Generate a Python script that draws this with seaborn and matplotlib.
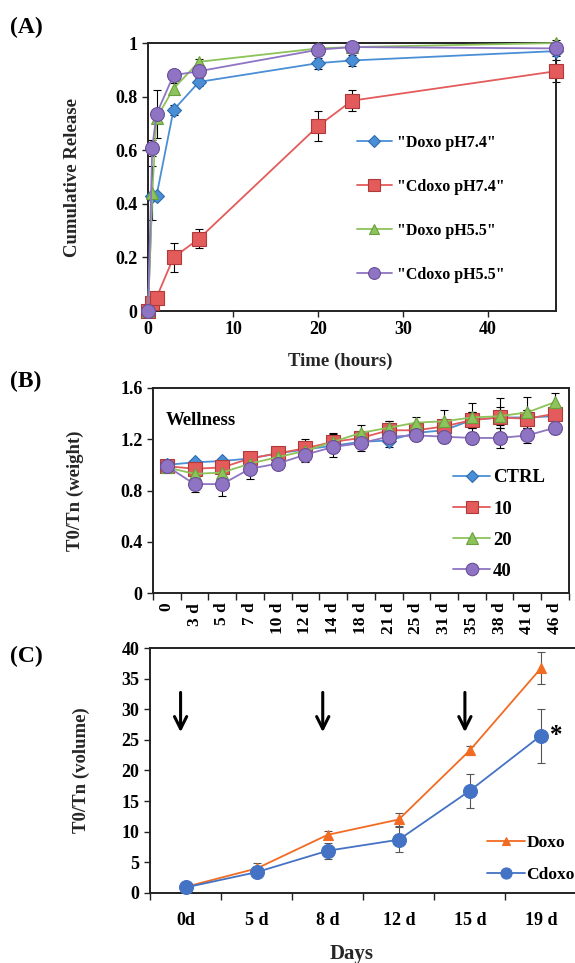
import numpy as np
import pandas as pd
import matplotlib
matplotlib.use("Agg")
import matplotlib.pyplot as plt
import seaborn as sns

# panel A: cumulative release vs time
hours = [0, 0.5, 1, 3, 6, 20, 24, 48]
doxo_74 = [0.0, 0.43, 0.43, 0.75, 0.855, 0.925, 0.935, 0.97]
doxo_74_err = [0, 0.01, 0.01, 0.02, 0.015, 0.02, 0.02, 0.02]
cdoxo_74 = [0.0, 0.03, 0.05, 0.20, 0.27, 0.69, 0.785, 0.895]
cdoxo_74_err = [0, 0.01, 0.01, 0.055, 0.035, 0.055, 0.04, 0.04]
doxo_55 = [0.0, 0.44, 0.72, 0.83, 0.93, 0.98, 0.985, 1.0]
doxo_55_err = [0, 0.10, 0.02, 0.02, 0.01, 0.01, 0.01, 0.01]
cdoxo_55 = [0.0, 0.61, 0.735, 0.88, 0.895, 0.975, 0.985, 0.98]
cdoxo_55_err = [0, 0.03, 0.09, 0.02, 0.01, 0.01, 0.01, 0.01]

# panel B: body weight ratio
days_b = ["0", "3 d", "5 d", "7 d", "10 d", "12 d", "14 d", "18 d",
          "21 d", "25 d", "31 d", "35 d", "38 d", "41 d", "46 d"]
ctrl = [1.0, 1.02, 1.03, 1.05, 1.09, 1.12, 1.15, 1.18, 1.19, 1.25, 1.27, 1.35, 1.37, 1.37, 1.38]
ctrl_err = [0.02, 0.02, 0.02, 0.03, 0.03, 0.05, 0.06, 0.05, 0.05, 0.05, 0.05, 0.06, 0.06, 0.06, 0.06]
dose10 = [0.99, 0.97, 0.98, 1.05, 1.09, 1.13, 1.18, 1.21, 1.27, 1.27, 1.30, 1.35, 1.37, 1.36, 1.40]
dose10_err = [0.02, 0.03, 0.03, 0.05, 0.04, 0.07, 0.07, 0.05, 0.07, 0.04, 0.05, 0.06, 0.08, 0.07, 0.05]
dose20 = [0.98, 0.93, 0.94, 1.01, 1.06, 1.11, 1.18, 1.25, 1.29, 1.33, 1.34, 1.37, 1.38, 1.41, 1.49]
dose20_err = [0.02, 0.04, 0.04, 0.05, 0.04, 0.05, 0.06, 0.06, 0.05, 0.04, 0.09, 0.11, 0.14, 0.12, 0.07]
dose40 = [0.99, 0.85, 0.85, 0.97, 1.01, 1.08, 1.14, 1.17, 1.22, 1.23, 1.22, 1.21, 1.21, 1.23, 1.29]
dose40_err = [0.02, 0.06, 0.09, 0.08, 0.04, 0.06, 0.08, 0.06, 0.05, 0.04, 0.05, 0.05, 0.08, 0.06, 0.05]

# panel C: tumour volume ratio
days_c = ["0d", "5 d", "8 d", "12 d", "15 d", "19 d"]
vol_doxo = [1.0, 4.0, 9.5, 12.0, 23.3, 36.7]
vol_doxo_err = [0.1, 0.9, 0.7, 1.0, 0.7, 2.6]
vol_cdoxo = [0.9, 3.4, 6.9, 8.7, 16.7, 25.7]
vol_cdoxo_err = [0.3, 0.6, 1.3, 2.0, 2.8, 4.4]
arrow_days = [0, 2, 4]  # treatment days (index in days_c)

sns.set_style("ticks")
plt.rcParams["font.family"] = ["Liberation Serif", "DejaVu Serif"]
plt.rcParams["font.weight"] = "bold"
plt.rcParams["axes.labelweight"] = "bold"
plt.rcParams["axes.edgecolor"] = "#222222"
plt.rcParams["xtick.color"] = "#222222"
plt.rcParams["ytick.color"] = "#222222"
plt.rcParams["text.color"] = "black"

fig = plt.figure(figsize=(5.75, 9.63), dpi=100)


def style_box(ax, fs):
    for s in ax.spines.values():
        s.set_visible(True)
        s.set_linewidth(1.4)
    ax.tick_params(direction="out", length=4, width=1.0, labelsize=fs, labelcolor="black")
    for lab in ax.get_xticklabels() + ax.get_yticklabels():
        lab.set_fontweight("bold")


def series(ax, x, y, err, color, edge, marker, ms, label, ecolor="black"):
    ax.errorbar(x, y, yerr=err, fmt="none", ecolor=ecolor, elinewidth=0.8,
                capsize=3, capthick=0.8, zorder=2, clip_on=False)
    sns.lineplot(x=x, y=y, ax=ax, color=color, marker=marker, markersize=ms,
                 markerfacecolor=color, markeredgecolor=edge, markeredgewidth=0.8,
                 linewidth=1.3, label=label, zorder=3, clip_on=False)


# ---------- (A) ----------
axA = fig.add_axes([0.2574, 0.677, 0.7096, 0.2783])
series(axA, hours, doxo_74, doxo_74_err, "#4A8FD6", "#2E6DB0", "D", 7, '"Doxo pH7.4"')
series(axA, hours, cdoxo_74, cdoxo_74_err, "#E35B5B", "#B03A3A", "s", 9.5, '"Cdoxo pH7.4"')
series(axA, hours, doxo_55, doxo_55_err, "#8CC35A", "#6A9E3E", "^", 9, '"Doxo pH5.5"')
series(axA, hours, cdoxo_55, cdoxo_55_err, "#8E74C2", "#6A5098", "o", 10, '"Cdoxo pH5.5"')
axA.set_xlim(0, 48)
axA.set_ylim(0, 1)
axA.set_xticks([0, 10, 20, 30, 40])
axA.set_yticks([0, 0.2, 0.4, 0.6, 0.8, 1.0])
axA.set_yticklabels(["0", "0.2", "0.4", "0.6", "0.8", "1"])
style_box(axA, 13)
axA.set_xlabel("Time (hours)", fontsize=13.5)
axA.set_ylabel("Cumulative Release", fontsize=13.5)
axA.xaxis.set_label_coords(0.47, -0.155)
axA.yaxis.set_label_coords(-0.165, 0.5)
axA.legend(loc="center left", bbox_to_anchor=(0.512, 0.382), frameon=False,
           fontsize=11.5, labelspacing=1.75, handlelength=2.2, handletextpad=0.3,
           borderpad=0, borderaxespad=0, markerscale=0.85)
fig.text(0.017, 0.971, "(A)", fontsize=17, fontweight="bold", va="center")

# ---------- (B) ----------
axB = fig.add_axes([0.266, 0.3842, 0.7235, 0.2129])
xb = np.arange(len(days_b))
series(axB, xb, ctrl, ctrl_err, "#4A8FD6", "#2E6DB0", "D", 7, "CTRL")
series(axB, xb, dose10, dose10_err, "#E35B5B", "#B03A3A", "s", 9.5, "10")
series(axB, xb, dose20, dose20_err, "#8CC35A", "#6A9E3E", "^", 9, "20")
series(axB, xb, dose40, dose40_err, "#8E74C2", "#6A5098", "o", 10, "40")
axB.set_xlim(-0.5, len(days_b) - 0.5)
axB.set_ylim(0, 1.6)
axB.set_yticks([0, 0.4, 0.8, 1.2, 1.6])
axB.set_yticklabels(["0", "0.4", "0.8", "1.2", "1.6"])
axB.set_xticks(xb)
axB.set_xticklabels(days_b, rotation=90)
axB.set_xticks(np.arange(-0.5, len(days_b), 1), minor=True)
style_box(axB, 13)
axB.tick_params(axis="x", which="major", length=0, pad=7, labelsize=12.5)
axB.tick_params(axis="x", which="minor", direction="out", length=5, width=1.0)
axB.set_xlabel("")
axB.set_ylabel("T0/Tn (weight)", fontsize=13.5)
axB.yaxis.set_label_coords(-0.165, 0.5)
axB.text(0.03, 0.84, "Wellness", transform=axB.transAxes, fontsize=13.5,
         fontweight="bold", va="center")
axB.legend(loc="center left", bbox_to_anchor=(0.721, 0.334), frameon=False,
           fontsize=13.5, labelspacing=0.75, handlelength=2.0, handletextpad=0.15,
           borderpad=0, borderaxespad=0, markerscale=0.9)
fig.text(0.017, 0.604, "(B)", fontsize=17, fontweight="bold", va="center")

# ---------- (C) ----------
axC = fig.add_axes([0.2609, 0.0727, 0.7417, 0.2544])
xc = np.arange(len(days_c))
series(axC, xc, vol_doxo, vol_doxo_err, "#F26B22", "#F26B22", "^", 6.5, "Doxo", ecolor="#555555")
series(axC, xc, vol_cdoxo, vol_cdoxo_err, "#4472C4", "#4472C4", "o", 10, "Cdoxo", ecolor="#555555")
axC.set_xlim(-0.5, len(days_c) - 0.5)
axC.set_ylim(0, 40)
axC.set_yticks(np.arange(0, 41, 5))
axC.set_xticks(xc)
axC.set_xticklabels(days_c)
axC.set_xticks(np.arange(-0.5, len(days_c), 1), minor=True)
style_box(axC, 13)
axC.tick_params(axis="x", which="major", length=0, pad=14)
axC.tick_params(axis="x", which="minor", direction="out", length=5, width=1.0)
for d in arrow_days:
    axC.annotate("", xy=(d - 0.07, 25.8), xytext=(d - 0.07, 33.2),
                 arrowprops=dict(arrowstyle="->", lw=2.2, color="black",
                                 mutation_scale=22))
axC.text(len(days_c) - 1 + 0.22, vol_cdoxo[-1], "*", fontsize=18,
         fontweight="bold", ha="center", va="center")
axC.set_xlabel("Days", fontsize=15)
axC.set_ylabel("T0/Tn (volume)", fontsize=13.5)
axC.xaxis.set_label_coords(0.473, -0.21)
axC.yaxis.set_label_coords(-0.14, 0.5)
axC.legend(loc="center left", bbox_to_anchor=(0.789, 0.139), frameon=False,
           fontsize=12.5, labelspacing=0.95, handlelength=2.2, handletextpad=0.1,
           borderpad=0, borderaxespad=0, markerscale=0.8)
fig.text(0.017, 0.318, "(C)", fontsize=17, fontweight="bold", va="center")

fig.savefig("out.png", dpi=100)
plt.close(fig)
